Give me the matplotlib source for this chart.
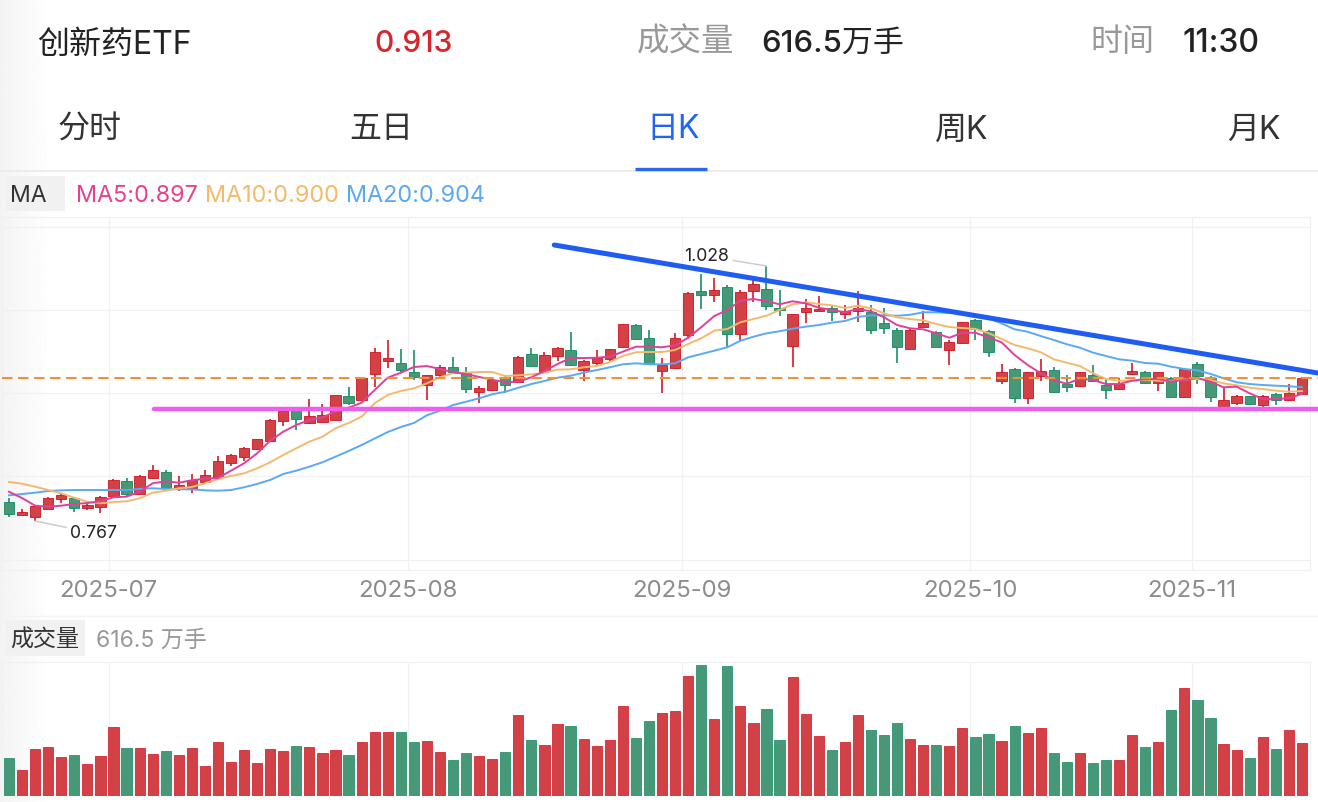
import matplotlib
matplotlib.use("Agg")
import matplotlib.pyplot as plt
import numpy as np

opens = [.786,.773,.771,.779,.790,.791,.780,.781,.793,.808,.795,.811,.817,.800,.801,.807,.812,.826,.832,.841,
         .849,.869,.881,.867,.868,.870,.895,.891,.917,.931,.929,.919,.906,.916,.925,.920,.899,.901,.914,.909,
         .938,.921,.936,.942,.922,.929,.933,.945,.968,.954,.921,.924,.957,1.002,.998,1.007,.958,1.002,1.004,.985,
         .946,.981,.982,.985,.979,.982,.981,.970,.962,.943,.966,.960,.942,.949,.973,.961,.910,.923,.893,.915,
         .922,.907,.905,.916,.906,.902,.917,.920,.908,.913,.894,.928,.913,.883,.888,.895,.886,.897,.891,.897]
closes = [.774,.776,.782,.791,.794,.780,.783,.792,.809,.795,.813,.819,.801,.804,.809,.814,.828,.835,.842,.851,
          .870,.880,.871,.874,.875,.896,.888,.913,.940,.934,.922,.914,.916,.925,.920,.902,.903,.911,.906,.935,
          .926,.937,.944,.927,.931,.934,.943,.969,.953,.928,.927,.954,1.000,.998,1.003,.958,1.001,1.010,.987,.983,
          .979,.985,.984,.981,.982,.985,.963,.965,.945,.963,.970,.945,.950,.971,.964,.940,.919,.893,.919,.921,
          .899,.904,.919,.910,.901,.907,.921,.908,.919,.894,.923,.915,.894,.891,.895,.887,.895,.891,.898,.913]
highs = [.791,.779,.783,.792,.796,.792,.785,.793,.810,.811,.814,.824,.819,.813,.815,.819,.834,.836,.843,.851,
         .871,.882,.882,.892,.887,.896,.904,.914,.944,.952,.943,.942,.916,.927,.935,.925,.905,.912,.915,.936,
         .944,.940,.945,.960,.932,.942,.943,.969,.969,.963,.934,.959,1.001,1.020,1.016,1.009,1.003,1.016,1.028,1.003,
         .979,.994,.997,.987,.988,1.002,.988,.985,.965,.964,.982,.961,.952,.971,.974,.962,.928,.924,.919,.933,
         .925,.916,.920,.927,.913,.913,.929,.921,.919,.914,.924,.930,.915,.904,.896,.895,.896,.898,.907,.914]
lows = [.771,.773,.767,.779,.785,.776,.778,.775,.793,.793,.795,.810,.800,.798,.796,.806,.811,.823,.828,.840,
        .848,.864,.860,.866,.868,.870,.886,.891,.904,.924,.920,.911,.891,.914,.918,.898,.888,.900,.898,.908,
        .925,.920,.931,.926,.910,.926,.930,.944,.952,.927,.898,.923,.953,.984,.991,.945,.951,.991,.983,.977,
        .925,.970,.982,.972,.974,.971,.958,.958,.929,.943,.966,.945,.927,.948,.952,.935,.907,.888,.887,.910,
        .898,.899,.904,.909,.892,.901,.916,.907,.900,.893,.893,.907,.889,.883,.886,.886,.883,.886,.890,.897]
ma5 = [.7970,.7905,.7827,.7816,.7827,.7844,.7854,.7872,.7913,.7919,.7970,.8056,.8076,.8062,.8087,.8103,.8110,.8185,.8261,.8363,
       .8492,.8584,.8653,.8704,.8731,.8789,.8830,.8881,.9011,.9137,.9188,.9246,.9256,.9226,.9192,.9175,.9144,.9116,.9090,.9096,
       .9141,.9205,.9277,.9338,.9338,.9341,.9352,.9403,.9454,.9454,.9448,.9468,.9546,.9653,.9768,.9830,.9925,.9942,.9922,.9888,
       .9919,.9898,.9853,.9830,.9806,.9840,.9816,.9755,.9676,.9642,.9632,.9591,.9546,.9597,.9597,.9548,.9499,.9369,.9267,.9182,
       .9110,.9075,.9126,.9113,.9072,.9072,.9106,.9123,.9123,.9096,.9116,.9134,.9096,.9038,.9045,.8977,.8919,.8916,.8929,.8970]
ma10 = [.8069,.8052,.8021,.7987,.7954,.7908,.7868,.7851,.7864,.7872,.7902,.7960,.7980,.8005,.8018,.8056,.8100,.8131,.8158,.8209,
        .8271,.8346,.8414,.8482,.8533,.8619,.8673,.8738,.8875,.8960,.9001,.9028,.9079,.9141,.9185,.9188,.9195,.9195,.9154,.9161,
        .9171,.9188,.9219,.9223,.9243,.9256,.9297,.9359,.9397,.9400,.9400,.9420,.9482,.9540,.9618,.9635,.9704,.9737,.9771,.9830,
        .9888,.9908,.9891,.9878,.9850,.9874,.9847,.9796,.9755,.9737,.9724,.9686,.9656,.9645,.9635,.9594,.9533,.9471,.9438,.9397,
        .9325,.9290,.9256,.9182,.9123,.9106,.9106,.9116,.9106,.9103,.9120,.9123,.9113,.9079,.9059,.9034,.9021,.9004,.8993,.9000]
ma20 = [.7933,.7946,.7960,.7977,.7984,.7987,.7987,.7987,.7987,.7987,.7998,.8005,.7998,.7994,.7994,.7984,.7980,.7987,.8015,.8049,
        .8090,.8151,.8185,.8226,.8271,.8328,.8386,.8448,.8514,.8581,.8632,.8673,.8752,.8799,.8857,.8891,.8926,.8967,.8993,.9034,
        .9072,.9103,.9137,.9157,.9188,.9215,.9243,.9274,.9284,.9274,.9274,.9284,.9345,.9379,.9413,.9448,.9515,.9556,.9591,.9612,
        .9638,.9659,.9676,.9700,.9717,.9758,.9775,.9775,.9771,.9781,.9806,.9806,.9799,.9796,.9781,.9745,.9693,.9632,.9607,.9563,
        .9523,.9479,.9444,.9393,.9359,.9325,.9311,.9287,.9280,.9249,.9226,.9212,.9175,.9131,.9090,.9072,.9062,.9055,.9049,.9040]
volumes = [440,297,540,567,451,471,367,459,802,559,552,486,517,478,552,343,625,390,532,378,
           548,517,575,563,498,529,471,629,745,745,737,621,637,506,421,494,467,432,506,938,
           644,587,837,810,656,579,652,1042,668,864,957,984,1389,1520,887,1508,1042,849,1011,644,
           1381,945,695,536,621,938,760,702,841,660,590,594,575,791,683,722,633,806,725,783,
           502,394,494,386,413,413,710,563,621,999,1246,1115,907,598,529,436,679,540,760,616.5]
month_labels = ["2025-07", "2025-08", "2025-09", "2025-10", "2025-11"]
month_positions = [7.62, 30.55, 51.53, 73.58, 90.58]
price_grid = [1.0681, 0.9832, 0.8982, 0.8133, 0.7273]
support_level = 0.8816
last_close = 0.913

W, H = 1318, 802
CJK = ["Inter", "Noto Sans CJK SC", "DejaVu Sans"]
RED_F, RED_E = "#d24146", "#d2101f"
GRN_F, GRN_E = "#479877", "#0f8a62"
GRID = "#f1f1f1"

fig = plt.figure(figsize=(W / 100, H / 100), dpi=100, facecolor="white")


def pix_axes(x0, y0, x1, y1, **kw):
    return fig.add_axes([x0 / W, 1 - y1 / H, (x1 - x0) / W, (y1 - y0) / H], **kw)


bg = pix_axes(0, 0, W, H, zorder=0)
bg.axis("off")
grad = np.linspace(0.955, 1.0, 60).reshape(1, -1)
bg.imshow(grad, extent=(0, 52, H, 0), cmap="gray", vmin=0, vmax=1, aspect="auto", zorder=0)
bg.set_xlim(0, W)
bg.set_ylim(H, 0)


def T(x, y, s, px, color, ha="left", **kw):
    bg.text(x, y, s, fontsize=px * 0.72, color=color, ha=ha, va="center", family=CJK, zorder=5, **kw)


T(37, 45, "创新药ETF", 32, "#222222")
T(374, 44, "0.913", 30, "#d8262e", fontweight="medium")
T(637, 43, "成交量", 32.5, "#999999")
T(761, 44, "616.5万手", 31, "#222222", fontweight="medium")
T(1090, 43, "时间", 32, "#999999")
T(1182, 44, "11:30", 32, "#222222", fontweight="medium")
for cx, s, c in [(90, "分时", "#333333"), (381, "五日", "#333333"), (673, "日K", "#1f66f2"),
                 (962, "周K", "#333333"), (1254, "月K", "#333333")]:
    T(cx, 130, s, 32, c, ha="center")
bg.plot([0, W], [171, 171], color="#ececec", lw=1.4, zorder=1)
bg.plot([635, 707], [168.5, 168.5], color="#2a66ee", lw=2.4, solid_capstyle="butt", zorder=2)

bg.add_patch(plt.Rectangle((5, 176), 60, 35, color="#f1f1f1", lw=0, zorder=1))
T(10, 196, "MA", 23, "#333333")
T(76, 196, "MA5:0.897", 23.4, "#e8408f")
T(205, 196, "MA10:0.900", 23.4, "#f5b96b")
T(346, 196, "MA20:0.904", 23.4, "#5aa9f5")

bg.add_patch(plt.Rectangle((5, 620), 80, 36, color="#f1f1f1", lw=0, zorder=1))
T(10, 641, "成交量", 23, "#333333")
T(96, 641, "616.5 万手", 23, "#999999")
bg.plot([0, W], [616, 616], color="#f3f3f3", lw=1, zorder=1)

x = np.arange(len(opens))
opens_a, closes_a = np.array(opens), np.array(closes)
up = closes_a >= opens_a
fill = [RED_F if u else GRN_F for u in up]
edge = [RED_E if u else GRN_E for u in up]

xl = ((2 - 9) / 13.06, (1310 - 9) / 13.06)

ax = pix_axes(2, 217, 1310, 570, zorder=2)
ax.patch.set_alpha(0)
ax.set_xlim(*xl)
ax.set_ylim(0.767 + (521 - 570) / 977, 0.767 + (521 - 217) / 977)
ax.set_yticks(price_grid)
ax.set_xticks(month_positions)
ax.set_xticklabels(month_labels, fontsize=24 * 0.72, color="#8c8c8c", family=CJK)
ax.tick_params(length=0, pad=7)
ax.tick_params(axis="y", labelleft=False)
ax.grid(True, color=GRID, lw=0.9)
ax.set_axisbelow(True)
for s in ax.spines.values():
    s.set_color(GRID)
    s.set_linewidth(0.9)

ax.vlines(x, lows, highs, colors=edge, lw=1.6 * 0.72, zorder=2)
ax.bar(x, np.abs(closes_a - opens_a), bottom=np.minimum(opens_a, closes_a), width=0.79,
       color=fill, edgecolor=edge, linewidth=0.6, zorder=3)

ax.plot(x, ma20, color="#5aa9f5", lw=1.4, zorder=4)
ax.plot(x, ma10, color="#f3b96f", lw=1.4, zorder=4)
ax.plot(x, ma5, color="#e0409a", lw=1.4, zorder=4)

ax.plot([xl[0], 100.2], [last_close, last_close], color="#ef9138", lw=1.5,
        dashes=(5, 2.7), clip_on=False, zorder=5)
ax.plot([11.1, 100.2], [support_level, support_level], color="#ee5cf0", lw=3.2,
        solid_capstyle="round", clip_on=False, zorder=6)
ax.plot([41.75, 100.2], [1.0495, 0.9185], color="#1e5cf2", lw=3.6,
        solid_capstyle="round", clip_on=False, zorder=6)

ax.annotate("1.028", xy=(58, 1.028), xytext=(51.7, 1.0382), fontsize=17.6 * 0.72, color="#222222",
            family=CJK, ha="left", va="center", zorder=7,
            arrowprops=dict(arrowstyle="-", color="#cccccc", lw=1.1, shrinkA=1, shrinkB=0))
ax.annotate("0.767", xy=(2, 0.767), xytext=(4.7, 0.7547), fontsize=17.6 * 0.72, color="#222222",
            family=CJK, ha="left", va="center", zorder=7,
            arrowprops=dict(arrowstyle="-", color="#cccccc", lw=1.1, shrinkA=1, shrinkB=0))

vax = pix_axes(2, 661.7, 1310, 796, zorder=2)
vax.patch.set_alpha(0)
vax.set_xlim(*xl)
vax.set_ylim(0, 134.3 * 11.57)
vax.set_xticks(month_positions)
vax.set_yticks([])
vax.tick_params(length=0, labelbottom=False)
vax.grid(True, axis="x", color=GRID, lw=0.9)
vax.set_axisbelow(True)
for s in vax.spines.values():
    s.set_color(GRID)
    s.set_linewidth(0.9)
vax.spines["bottom"].set_visible(False)
vax.bar(x, volumes, width=0.78, color=fill, edgecolor=edge, linewidth=0.5, zorder=3)

fig.savefig("out.png", dpi=100)
